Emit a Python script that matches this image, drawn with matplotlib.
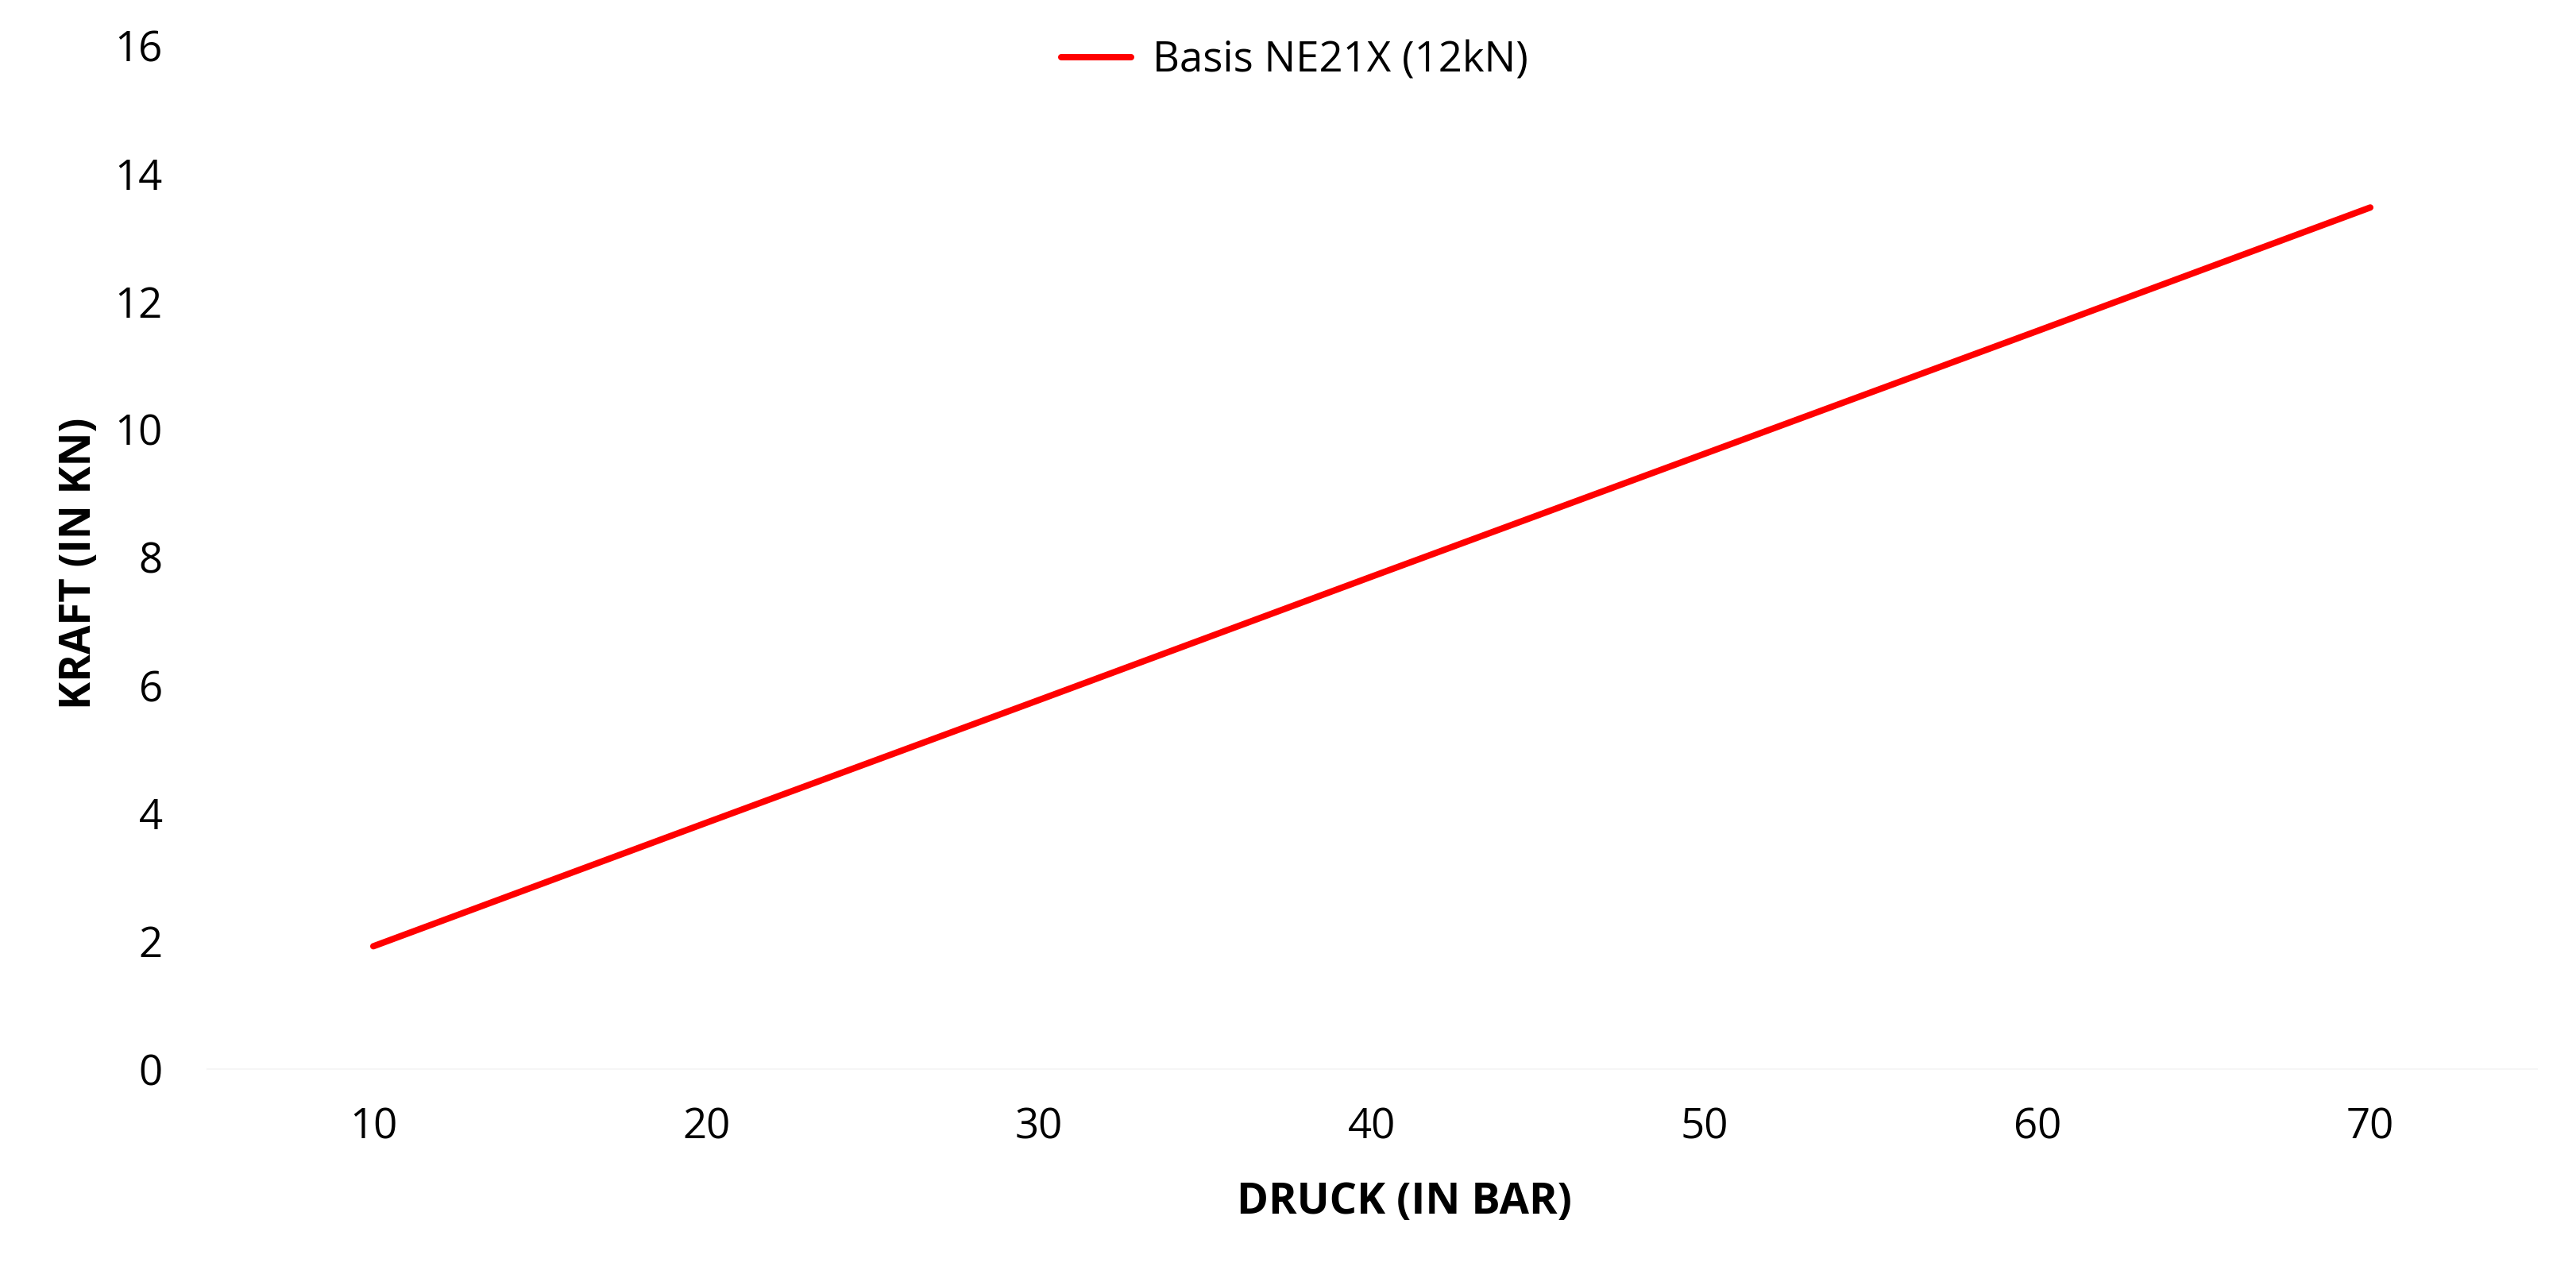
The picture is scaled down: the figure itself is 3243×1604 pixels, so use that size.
import matplotlib
matplotlib.use("Agg")
import matplotlib.pyplot as plt

# Data
druck_bar = [10, 20, 30, 40, 50, 60, 70]
kraft_kn = [1.92, 3.85, 5.77, 7.70, 9.62, 11.54, 13.47]
series_label = "Basis NE21X (12kN)"
x_ticks = [10, 20, 30, 40, 50, 60, 70]
y_ticks = [0, 2, 4, 6, 8, 10, 12, 14, 16]
x_title = "DRUCK (IN BAR)"
y_title = "KRAFT (IN KN)"

plt.rcParams['font.family'] = ['Open Sans', 'DejaVu Sans']

W, H, DPI = 3243, 1604, 200
fig = plt.figure(figsize=(W / DPI, H / DPI), dpi=DPI, facecolor='white')

left_px, right_px = 260.5, 3193.5
bottom_px, top_px = 1346, 57.5
ax = fig.add_axes([left_px / W, 1 - bottom_px / H,
                   (right_px - left_px) / W, (bottom_px - top_px) / H])

ax.plot(druck_bar, kraft_kn, color='#FF0000', linewidth=2.9,
        solid_capstyle='round', label=series_label, clip_on=False)

ax.set_xlim(5, 75)
ax.set_ylim(0, 16)
ax.set_xticks(x_ticks)
ax.set_yticks(y_ticks)

for s in ['top', 'right', 'left']:
    ax.spines[s].set_visible(False)
ax.spines['bottom'].set_color('#f6f6f6')
ax.spines['bottom'].set_linewidth(0.8)

ax.tick_params(axis='both', length=0, labelsize=19, colors='black')
ax.tick_params(axis='x', pad=17)
ax.tick_params(axis='y', pad=20)

ax.set_xlabel(x_title, fontsize=19.5, fontweight='bold', color='black')
ax.xaxis.label.set_va('center')
ax.xaxis.set_label_coords((1768 - left_px) / (right_px - left_px),
                          (bottom_px - 1514) / (bottom_px - top_px))

ax.set_ylabel(y_title, fontsize=19, fontweight='bold', color='black')
ax.yaxis.label.set_va('center')
ax.yaxis.set_label_coords((100 - left_px) / (right_px - left_px),
                          (bottom_px - 709) / (bottom_px - top_px))

leg = fig.legend(loc='center', bbox_to_anchor=(1630 / W, 1 - 77 / H),
                 frameon=False, fontsize=19, handlelength=1.67,
                 handletextpad=0.5)

fig.savefig('out.png', dpi=DPI, facecolor='white')
